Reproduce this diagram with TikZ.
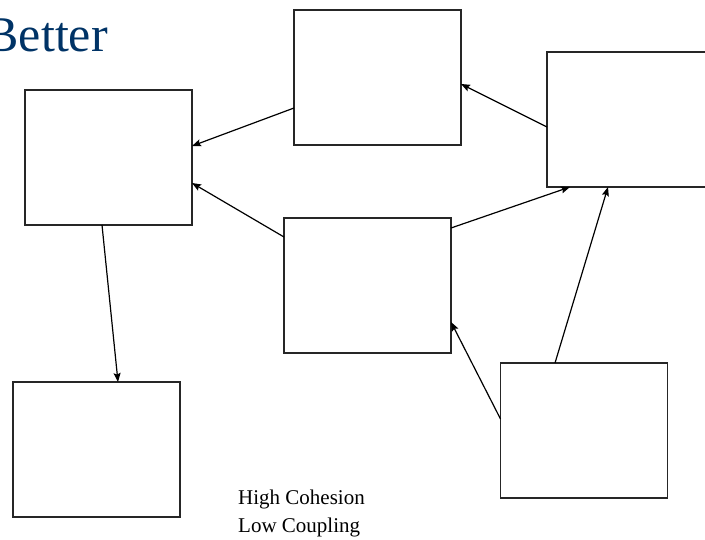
\documentclass[tikz,border=0pt]{standalone}
\usepackage{fontspec}
\setmainfont{Liberation Serif}
\usetikzlibrary{arrows.meta}
\definecolor{titleblue}{RGB}{0,51,102}
\begin{document}
\begin{tikzpicture}[x=1pt,y=-1pt,
  module/.style={draw=black!85, line width=1.3pt, fill=white, inner sep=0pt, outer sep=0pt,
    minimum width=167pt, minimum height=135pt},
  dep/.style={line width=1.2pt, -{Stealth[length=9pt,width=7pt,inset=1.5pt]}},
  caption/.style={anchor=base west, inner sep=0pt, font=\fontsize{21}{26}\selectfont}]
  \useasboundingbox (0,0) rectangle (705,540);
  \clip (0,0) rectangle (705,540);

  % heading
  \node[anchor=base east, inner sep=0pt, text=titleblue, font=\fontsize{50}{60}\selectfont]
    (title) at (108,52) {Better};

  % modules
  \node[module] (A) at (108.5,157.5) {};
  \node[module] (B) at (377.5,77.5) {};
  \node[module] (C) at (630.5,119.5) {};
  \node[module] (D) at (367.5,285.5) {};
  \node[module] (E) at (584,430.5) {};
  \node[module] (F) at (96.5,449.5) {};

  % dependencies
  \draw[dep] ([yshift=-30.5pt]B.west) -- ([yshift=11.5pt]A.east);
  \draw[dep] ([yshift=48.5pt]D.west) -- ([yshift=-25.5pt]A.east);
  \draw[dep] ([yshift=-7.5pt]C.west) -- ([yshift=-6.5pt]B.east);
  \draw[dep] ([yshift=57.5pt]D.east) -- ([xshift=-60.5pt]C.south);
  \draw[dep] ([xshift=-29pt]E.north) -- ([xshift=-22.5pt]C.south);
  \draw[dep] ([yshift=11.5pt]E.west) -- ([yshift=-36.5pt]D.east);
  \draw[dep] ([xshift=-6.5pt]A.south) -- ([xshift=21.5pt]F.north);

  % caption
  \node[caption] (cohesion) at (238,504) {High Cohesion};
  \node[caption] (coupling) at (238,532) {Low Coupling};
\end{tikzpicture}
\end{document}
